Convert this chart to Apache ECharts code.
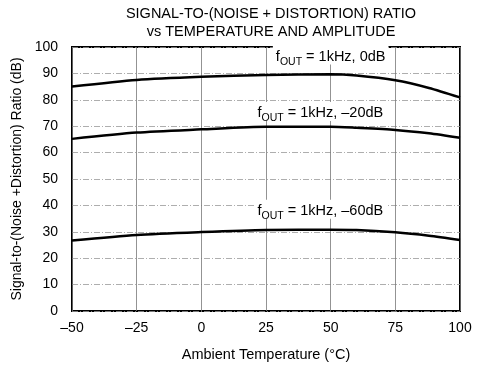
<!DOCTYPE html>
<html><head><meta charset="utf-8">
<script src="https://cdn.jsdelivr.net/npm/echarts@6/dist/echarts.min.js"></script>
<style>html,body{margin:0;padding:0;background:#fff}#c{width:484px;height:367px}</style>
</head><body><div id="c"></div>
<script>
const temps = [-50, -25, 0, 25, 50, 60, 75, 88, 100];
const snr0dB  = [85.0, 87.5, 88.7, 89.4, 89.7, 89.2, 87.4, 84.5, 80.9];
const snr20dB = [65.2, 67.6, 68.8, 69.8, 69.8, 69.4, 68.6, 67.3, 65.6];
const snr60dB = [26.7, 28.8, 29.9, 30.7, 30.8, 30.7, 29.8, 28.5, 26.9];
const xTicks = [-50, -25, 0, 25, 50, 75, 100];
const labels = [
  {name: '0dB', x: 50, y: 97},
  {name: '–20dB', x: 46, y: 75.6},
  {name: '–60dB', x: 46, y: 38.5}
];
const FONT = 'Liberation Sans, Arial, Helvetica, sans-serif';
function pairs(v){ return temps.map((t,i)=>[t, v[i]]); }
function mk(lbl){
  return {
    symbol: 'rect', symbolSize: 0, silent: true,
    data: [{coord: [lbl.x, lbl.y]}],
    label: {
      show: true, position: 'inside',
      formatter: '{f|f}{s|OUT}{f| = 1kHz, ' + lbl.name + '}',
      backgroundColor: '#fff', padding: [2, 3, 0, 3],
      rich: {
        f: {fontFamily: FONT, fontSize: 14.5, color: '#000', verticalAlign: 'bottom', lineHeight: 17},
        s: {fontFamily: FONT, fontSize: 10.5, color: '#000', verticalAlign: 'bottom', lineHeight: 13, padding: [0,0,-3,0]}
      }
    }
  };
}
function series(v, lbl){
  return {
    type: 'line', data: pairs(v), smooth: 0.25, showSymbol: false,
    lineStyle: {color: '#000', width: 2.5}, silent: true, animation: false,
    markPoint: mk(lbl)
  };
}
const chart = echarts.init(document.getElementById('c'));
chart.setOption({
  animation: false,
  backgroundColor: '#fff',
  title: {
    text: 'SIGNAL-TO-(NOISE + DISTORTION) RATIO\nvs TEMPERATURE AND AMPLITUDE',
    left: 266, top: 0, textAlign: 'center',
    textStyle: {fontFamily: FONT, fontSize: 14.5, fontWeight: 'normal', color: '#000', lineHeight: 18}
  },
  grid: {left: 72, right: 24, top: 47, bottom: 56, show: true, borderColor: '#000', borderWidth: 2, backgroundColor: 'transparent'},
  xAxis: {
    type: 'value', min: -50, max: 100, interval: 25,
    name: 'Ambient Temperature (°C)', nameLocation: 'middle', nameGap: 36,
    nameTextStyle: {fontFamily: FONT, fontSize: 14.5, color: '#000'},
    axisLine: {show: false}, axisTick: {show: false},
    axisLabel: {fontFamily: FONT, fontSize: 14, color: '#000', margin: 10,
      formatter: v => (v < 0 ? '–' + Math.abs(v) : String(v))},
    splitLine: {show: true, lineStyle: {color: '#777', width: 0.8}}
  },
  yAxis: {
    type: 'value', min: 0, max: 100, interval: 10,
    name: 'Signal-to-(Noise +Distortion) Ratio (dB)', nameLocation: 'middle', nameGap: 44,
    nameTextStyle: {fontFamily: FONT, fontSize: 14, color: '#000'},
    axisLine: {show: false}, axisTick: {show: false},
    axisLabel: {fontFamily: FONT, fontSize: 14, color: '#000', margin: 14},
    splitLine: {show: true, lineStyle: {color: '#999', width: 0.8, type: [6, 2, 1, 2]}}
  },
  series: [series(snr0dB, labels[0]), series(snr20dB, labels[1]), series(snr60dB, labels[2])]
});
</script></body></html>
